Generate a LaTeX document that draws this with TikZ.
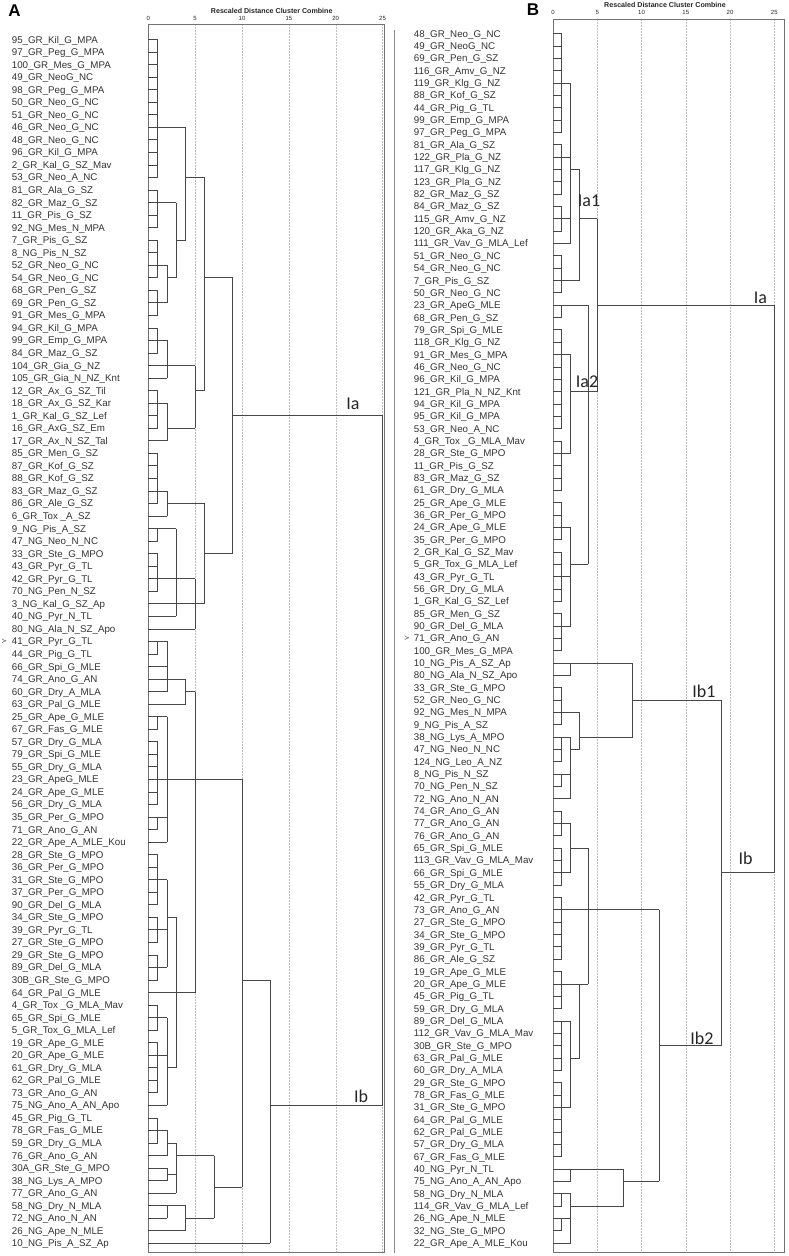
\documentclass[tikz,border=0pt]{standalone}
\usepackage{fontspec}
\setmainfont{Liberation Sans}
\newfontfamily\carl{Carlito}
\newfontfamily\djv{DejaVu Sans}
\usetikzlibrary{calc}
\def\XoA{148.3}\def\UnA{9.37}\def\YoA{39.5}\def\DyA{12.54}
\def\XoB{553}\def\UnB{8.85}\def\YoB{33.7}\def\DyB{12.34}
% cluster: panel, name, distance, output row, children
\newcommand\clu[5]{%
  \coordinate (tmp) at ({\csname Xo#1\endcsname+\csname Un#1\endcsname*#3},0);
  \foreach \chld [count=\ci] in {#5} {%
    \draw[dl] (\chld) -- (\chld -| tmp);
    \ifnum\ci=1 \xdef\cfirst{\chld}\fi
    \xdef\clast{\chld}%
  }%
  \draw[dl] (\cfirst -| tmp) -- (\clast -| tmp);
  \coordinate (#2) at ({\csname Xo#1\endcsname+\csname Un#1\endcsname*#3},{\csname Yo#1\endcsname+(#4-1)*\csname Dy#1\endcsname});
}
% leaf bracket: panel, name, distance, output row, first leaf, last leaf
\newcommand\lb[6]{%
  \coordinate (tmp) at ({\csname Xo#1\endcsname+\csname Un#1\endcsname*#3},0);
  \foreach \k in {#5,...,#6} {\draw[dl] (#1\k) -- (#1\k -| tmp);}
  \draw[dl] (#1#5 -| tmp) -- (#1#6 -| tmp);
  \coordinate (#2) at ({\csname Xo#1\endcsname+\csname Un#1\endcsname*#3},{\csname Yo#1\endcsname+(#4-1)*\csname Dy#1\endcsname});
}
\begin{document}
\begin{tikzpicture}[x=1pt,y=-1pt,
  dl/.style={draw=black!72,line width=0.75pt},
  grid/.style={draw=black!25,line width=0.4pt,dash pattern=on 1.5pt off 1.5pt},
  frame/.style={draw=black!55,line width=0.9pt},
  lab/.style={anchor=base west,inner sep=0pt,font=\fontsize{9.75}{10}\selectfont,text=black!80},
  tick/.style={inner sep=0pt,font=\fontsize{6}{6}\selectfont,text=black!85},
  ttl/.style={inner sep=0pt,font=\bfseries\fontsize{7.1}{7.1}\selectfont,text=black!85},
  pl/.style={inner sep=0pt,font=\bfseries\fontsize{17}{17}\selectfont},
  cl/.style={inner sep=0pt,font=\carl\fontsize{18}{18}\selectfont,text=black!85},
  mk/.style={inner sep=0pt,font=\djv\fontsize{7}{7}\selectfont,text=black!70}]
\fill[white] (0,0) rectangle (788,1256);
\useasboundingbox (0,0) rectangle (788,1256);

% ---------------- Panel A ----------------
\node[pl] (PA) at (14.5,10.5) {A};
\node[ttl] (TA) at (271.7,11) {Rescaled Distance Cluster Combine};
\foreach \v in {0,5,...,25} \node[tick] (tA\v) at ({\XoA+\UnA*\v},18.3) {\v};
\foreach \v in {5,10,...,25} \draw[grid] ({\XoA+\UnA*\v},24) -- ({\XoA+\UnA*\v},1252.7);
\draw[frame] (148.3,24) rectangle (384.3,1252.7);
\draw[draw=black!45,line width=0.8pt] (394.7,30) -- (394.7,1252.7);

\foreach \t [count=\i] in {95_GR_Kil_G_MPA, 97_GR_Peg_G_MPA, 100_GR_Mes_G_MPA, 49_GR_NeoG_NC, 98_GR_Peg_G_MPA, 50_GR_Neo_G_NC, 51_GR_Neo_G_NC, 46_GR_Neo_G_NC, 48_GR_Neo_G_NC, 96_GR_Kil_G_MPA,
 2_GR_Kal_G_SZ_Mav, 53_GR_Neo_A_NC, 81_GR_Ala_G_SZ, 82_GR_Maz_G_SZ, 11_GR_Pis_G_SZ, 92_NG_Mes_N_MPA, 7_GR_Pis_G_SZ, 8_NG_Pis_N_SZ, 52_GR_Neo_G_NC, 54_GR_Neo_G_NC,
 68_GR_Pen_G_SZ, 69_GR_Pen_G_SZ, 91_GR_Mes_G_MPA, 94_GR_Kil_G_MPA, 99_GR_Emp_G_MPA, 84_GR_Maz_G_SZ, 104_GR_Gia_G_NZ, 105_GR_Gia_N_NZ_Knt, 12_GR_Ax_G_SZ_Til, 18_GR_Ax_G_SZ_Kar,
 1_GR_Kal_G_SZ_Lef, 16_GR_AxG_SZ_Em, 17_GR_Ax_N_SZ_Tal, 85_GR_Men_G_SZ, 87_GR_Kof_G_SZ, 88_GR_Kof_G_SZ, 83_GR_Maz_G_SZ, 86_GR_Ale_G_SZ, 6_GR_Tox _A_SZ, 9_NG_Pis_A_SZ,
 47_NG_Neo_N_NC, 33_GR_Ste_G_MPO, 43_GR_Pyr_G_TL, 42_GR_Pyr_G_TL, 70_NG_Pen_N_SZ, 3_NG_Kal_G_SZ_Ap, 40_NG_Pyr_N_TL, 80_NG_Ala_N_SZ_Apo, 41_GR_Pyr_G_TL, 44_GR_Pig_G_TL,
 66_GR_Spi_G_MLE, 74_GR_Ano_G_AN, 60_GR_Dry_A_MLA, 63_GR_Pal_G_MLE, 25_GR_Ape_G_MLE, 67_GR_Fas_G_MLE, 57_GR_Dry_G_MLA, 79_GR_Spi_G_MLE, 55_GR_Dry_G_MLA, 23_GR_ApeG_MLE,
 24_GR_Ape_G_MLE, 56_GR_Dry_G_MLA, 35_GR_Per_G_MPO, 71_GR_Ano_G_AN, 22_GR_Ape_A_MLE_Kou, 28_GR_Ste_G_MPO, 36_GR_Per_G_MPO, 31_GR_Ste_G_MPO, 37_GR_Per_G_MPO, 90_GR_Del_G_MLA,
 34_GR_Ste_G_MPO, 39_GR_Pyr_G_TL, 27_GR_Ste_G_MPO, 29_GR_Ste_G_MPO, 89_GR_Del_G_MLA, 30B_GR_Ste_G_MPO, 64_GR_Pal_G_MLE, 4_GR_Tox _G_MLA_Mav, 65_GR_Spi_G_MLE, 5_GR_Tox_G_MLA_Lef,
 19_GR_Ape_G_MLE, 20_GR_Ape_G_MLE, 61_GR_Dry_G_MLA, 62_GR_Pal_G_MLE, 73_GR_Ano_G_AN, 75_NG_Ano_A_AN_Apo, 45_GR_Pig_G_TL, 78_GR_Fas_G_MLE, 59_GR_Dry_G_MLA, 76_GR_Ano_G_AN,
 30A_GR_Ste_G_MPO, 38_NG_Lys_A_MPO, 77_GR_Ano_G_AN, 58_NG_Dry_N_MLA, 72_NG_Ano_N_AN, 26_NG_Ape_N_MLE, 10_NG_Pis_A_SZ_Ap} {
  \coordinate (A\i) at (\XoA,{\YoA+(\i-1)*\DyA});
  \node[lab] (LA\i) at (11.7,{\YoA+(\i-1)*\DyA+3.5}) {\detokenize\expandafter{\t}};
}
\node[mk] (MA) at (4.2,641) {≻};

\lb{A}{a1}{1}{8}{1}{12}
\lb{A}{a2}{1}{14}{13}{16}
\lb{A}{a3}{1}{19}{17}{20}
\lb{A}{a4}{1}{22}{21}{23}
\clu{A}{a5}{2}{20}{a3,a4}
\clu{A}{a6}{3}{17}{a2,a5}
\clu{A}{a7}{4}{12}{a1,a6}
\lb{A}{a8}{1}{25}{24}{26}
\clu{A}{a9}{2}{27}{a8,A27,A28}
\lb{A}{a10}{1}{30}{29}{32}
\clu{A}{a11}{2}{32}{a10,A33}
\clu{A}{a12}{5}{29}{a9,a11}
\clu{A}{a13}{6}{20}{a7,a12}
\lb{A}{a14}{1}{37}{34}{38}
\clu{A}{a15}{2}{38}{a14,A39}
\lb{A}{a16}{1}{40}{40}{41}
\lb{A}{a17}{1}{44}{42}{45}
\clu{A}{a18}{3}{44}{a16,a17,A47}
\clu{A}{a20}{5}{46}{a18,A46,A48}
\clu{A}{a19}{6}{42}{a15,a20}
\clu{A}{aIa}{9}{31}{a13,a19}
\lb{A}{a21}{1}{49}{49}{50}
\clu{A}{a22}{2}{52}{a21,A51,A52,A53}
\clu{A}{a23}{4}{53}{a22,A54}
\lb{A}{a24}{1}{55}{55}{56}
\lb{A}{a25}{1}{60}{57}{62}
\lb{A}{a26}{1}{63}{63}{64}
\clu{A}{a27}{2}{60}{a24,a25,a26,A65}
\lb{A}{a30}{1}{68}{66}{70}
\lb{A}{a31}{1}{72}{71}{73}
\lb{A}{a32}{1}{75}{74}{76}
\clu{A}{a33}{2}{71}{a30,a31,a32}
\lb{A}{a35}{1}{79}{78}{80}
\lb{A}{a36}{1}{82}{81}{85}
\clu{A}{a37}{2}{83}{a35,a36,A86}
\clu{A}{a34}{3}{77}{a33,A77,a37}
\clu{A}{a29}{5}{60}{a23,a27,a34}
\lb{A}{a40}{1}{88}{87}{89}
\clu{A}{a41}{2}{89}{a40,A90}
\clu{A}{a42}{2}{91.5}{A91,A92}
\clu{A}{a43}{3}{90}{a41,a42,A93}
\clu{A}{a44}{2}{94}{A94,A95}
\clu{A}{a45}{4}{95}{a44,A96}
\clu{A}{a46}{7}{92.5}{a43,a45}
\clu{A}{a47}{10}{76}{a29,a46}
\clu{A}{a48}{13}{86}{a47,A97}
\clu{A}{aroot}{25}{60}{aIa,a48}
\node[cl] (lIaA) at (353,404) {Ia};
\node[cl] (lIbA) at (361,1096) {Ib};

% ---------------- Panel B ----------------
\node[pl] (PB) at (533,9.5) {B};
\node[ttl] (TB) at (665,5) {Rescaled Distance Cluster Combine};
\foreach \v in {0,5,...,25} \node[tick] (tB\v) at ({\XoB+\UnB*\v},12.3) {\v};
\foreach \v in {5,10,...,25} \draw[grid] ({\XoB+\UnB*\v},19.3) -- ({\XoB+\UnB*\v},1252.7);
\draw[frame] (553,19.3) rectangle (784.7,1252.7);

\foreach \t [count=\i] in {48_GR_Neo_G_NC, 49_GR_NeoG_NC, 69_GR_Pen_G_SZ, 116_GR_Amv_G_NZ, 119_GR_Klg_G_NZ, 88_GR_Kof_G_SZ, 44_GR_Pig_G_TL, 99_GR_Emp_G_MPA, 97_GR_Peg_G_MPA, 81_GR_Ala_G_SZ,
 122_GR_Pla_G_NZ, 117_GR_Klg_G_NZ, 123_GR_Pla_G_NZ, 82_GR_Maz_G_SZ, 84_GR_Maz_G_SZ, 115_GR_Amv_G_NZ, 120_GR_Aka_G_NZ, 111_GR_Vav_G_MLA_Lef, 51_GR_Neo_G_NC, 54_GR_Neo_G_NC,
 7_GR_Pis_G_SZ, 50_GR_Neo_G_NC, 23_GR_ApeG_MLE, 68_GR_Pen_G_SZ, 79_GR_Spi_G_MLE, 118_GR_Klg_G_NZ, 91_GR_Mes_G_MPA, 46_GR_Neo_G_NC, 96_GR_Kil_G_MPA, 121_GR_Pla_N_NZ_Knt,
 94_GR_Kil_G_MPA, 95_GR_Kil_G_MPA, 53_GR_Neo_A_NC, 4_GR_Tox _G_MLA_Mav, 28_GR_Ste_G_MPO, 11_GR_Pis_G_SZ, 83_GR_Maz_G_SZ, 61_GR_Dry_G_MLA, 25_GR_Ape_G_MLE, 36_GR_Per_G_MPO,
 24_GR_Ape_G_MLE, 35_GR_Per_G_MPO, 2_GR_Kal_G_SZ_Mav, 5_GR_Tox_G_MLA_Lef, 43_GR_Pyr_G_TL, 56_GR_Dry_G_MLA, 1_GR_Kal_G_SZ_Lef, 85_GR_Men_G_SZ, 90_GR_Del_G_MLA, 71_GR_Ano_G_AN,
 100_GR_Mes_G_MPA, 10_NG_Pis_A_SZ_Ap, 80_NG_Ala_N_SZ_Apo, 33_GR_Ste_G_MPO, 52_GR_Neo_G_NC, 92_NG_Mes_N_MPA, 9_NG_Pis_A_SZ, 38_NG_Lys_A_MPO, 47_NG_Neo_N_NC, 124_NG_Leo_A_NZ,
 8_NG_Pis_N_SZ, 70_NG_Pen_N_SZ, 72_NG_Ano_N_AN, 74_GR_Ano_G_AN, 77_GR_Ano_G_AN, 76_GR_Ano_G_AN, 65_GR_Spi_G_MLE, 113_GR_Vav_G_MLA_Mav, 66_GR_Spi_G_MLE, 55_GR_Dry_G_MLA,
 42_GR_Pyr_G_TL, 73_GR_Ano_G_AN, 27_GR_Ste_G_MPO, 34_GR_Ste_G_MPO, 39_GR_Pyr_G_TL, 86_GR_Ale_G_SZ, 19_GR_Ape_G_MLE, 20_GR_Ape_G_MLE, 45_GR_Pig_G_TL, 59_GR_Dry_G_MLA,
 89_GR_Del_G_MLA, 112_GR_Vav_G_MLA_Mav, 30B_GR_Ste_G_MPO, 63_GR_Pal_G_MLE, 60_GR_Dry_A_MLA, 29_GR_Ste_G_MPO, 78_GR_Fas_G_MLE, 31_GR_Ste_G_MPO, 64_GR_Pal_G_MLE, 62_GR_Pal_G_MLE,
 57_GR_Dry_G_MLA, 67_GR_Fas_G_MLE, 40_NG_Pyr_N_TL, 75_NG_Ano_A_AN_Apo, 58_NG_Dry_N_MLA, 114_GR_Vav_G_MLA_Lef, 26_NG_Ape_N_MLE, 32_NG_Ste_G_MPO, 22_GR_Ape_A_MLE_Kou} {
  \coordinate (B\i) at (\XoB,{\YoB+(\i-1)*\DyB});
  \node[lab] (LB\i) at (413.7,{\YoB+(\i-1)*\DyB+3.5}) {\detokenize\expandafter{\t}};
}
\node[mk] (MB) at (407,638) {≻};

\lb{B}{b1}{1}{5}{1}{9}
\lb{B}{b2}{1}{11}{10}{14}
\lb{B}{b4}{1}{16}{15}{17}
\clu{B}{b3}{2}{12}{b1,b2,b4,B18}
\lb{B}{b5}{1}{21}{19}{22}
\clu{B}{bIa1}{3}{16}{b3,b5}
\lb{B}{b6}{1}{23}{23}{24}
\lb{B}{b7}{1}{27}{25}{33}
\lb{B}{b8}{1}{35}{34}{38}
\clu{B}{b9}{2}{30}{b7,b8}
\lb{B}{b11}{1}{41}{39}{42}
\lb{B}{b12}{1}{45}{43}{47}
\lb{B}{b13}{1}{49}{48}{51}
\clu{B}{b10}{2}{44}{b11,b12,b13}
\clu{B}{bIa2}{4}{30}{b6,b9,b10}
\clu{B}{bIa}{5}{23}{bIa1,bIa2}
\clu{B}{b14}{2}{52}{B52,B53}
\lb{B}{b15}{1}{56}{54}{57}
\lb{B}{b16}{1}{58}{58}{60}
\lb{B}{b17}{1}{61}{61}{62}
\clu{B}{b18}{2}{59}{b16,b17,B63}
\clu{B}{b19}{3}{58}{b15,b18}
\clu{B}{bIb1}{9}{55}{b14,b19}
\lb{B}{b20}{1}{65}{64}{66}
\lb{B}{b21}{1}{69}{67}{70}
\clu{B}{b22}{2}{67}{b20,b21}
\lb{B}{b23}{1}{72}{71}{76}
\lb{B}{b24}{1}{78}{77}{80}
\lb{B}{b26}{1}{81}{81}{85}
\lb{B}{b27}{1}{88}{86}{92}
\clu{B}{b28}{2}{84}{b26,b27}
\clu{B}{b29}{3}{78}{b24,b28}
\clu{B}{b25}{4}{72}{b22,b23,b29}
\clu{B}{b30}{2}{93}{B93,B94}
\lb{B}{b33}{1}{95}{95}{96}
\lb{B}{b34}{1}{97}{97}{98}
\clu{B}{b32}{2}{96}{b33,b34,B99}
\clu{B}{b31}{8}{94}{b30,b32}
\clu{B}{bIb2}{12}{83}{b25,b31}
\clu{B}{bIb}{19}{69}{bIb1,bIb2}
\clu{B}{broot}{25}{46}{bIa,bIb}
\node[cl] (lIa1) at (589,201) {Ia1};
\node[cl] (lIa2) at (587,381.5) {Ia2};
\node[cl] (lIaB) at (760.5,298) {Ia};
\node[cl] (lIb1) at (704,691.5) {Ib1};
\node[cl] (lIbB) at (745.5,858) {Ib};
\node[cl] (lIb2) at (702,1038) {Ib2};
\end{tikzpicture}
\end{document}
